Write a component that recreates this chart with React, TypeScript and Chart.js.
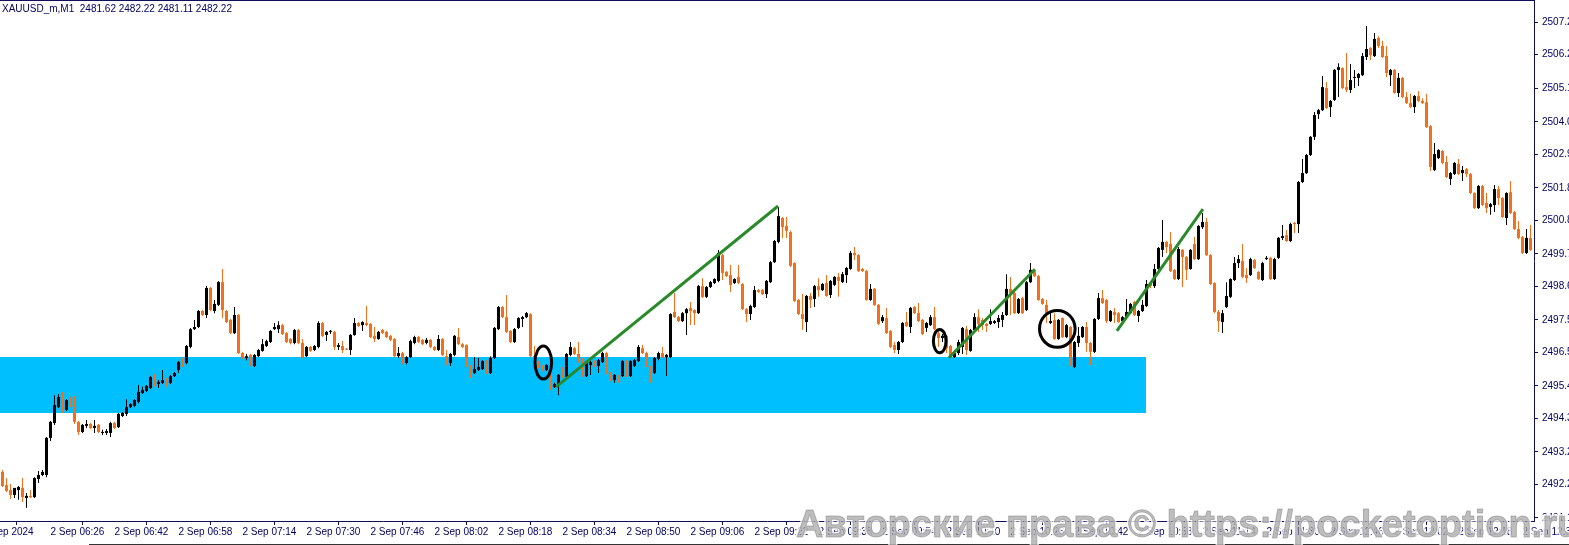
import React, { useEffect, useRef } from "react";
import { Chart, registerables } from "chart.js";

Chart.register(...registerables);

const chartTitle = "XAUUSD_m,M1  2481.62 2482.22 2481.11 2482.22";
const watermarkText = "Авторские права © https://pocketoption.ru";

// M1 candles, 2 Sep 2024 06:14 ... 12:36 (index 0 = 06:14)
const opens = [
  2492.60, 2492.17, 2492.01, 2491.85, 2492.01, 2492.08, 2491.75, 2491.82, 2491.78, 2492.37,
  2492.50, 2492.50, 2493.71, 2494.19, 2494.71, 2495.07, 2494.62, 2494.97, 2494.91, 2494.23,
  2493.90, 2494.10, 2494.16, 2494.03, 2494.13, 2493.87, 2493.87, 2493.87, 2494.19, 2494.06,
  2494.42, 2494.49, 2494.71, 2494.75, 2494.88, 2495.17, 2495.24, 2495.33, 2495.69, 2495.46,
  2495.50, 2495.59, 2495.50, 2495.72, 2495.92, 2496.24, 2496.15, 2496.67, 2497.25, 2497.32,
  2497.84, 2497.71, 2498.59, 2497.84, 2498.04, 2498.78, 2497.84, 2497.55, 2497.12, 2497.71,
  2496.47, 2496.31, 2496.41, 2496.05, 2496.37, 2496.54, 2496.70, 2496.83, 2497.25, 2497.25,
  2497.38, 2497.12, 2496.93, 2496.80, 2497.22, 2496.80, 2496.37, 2496.67, 2496.57, 2496.67,
  2497.45, 2497.06, 2497.16, 2497.16, 2496.67, 2496.70, 2496.60, 2496.57, 2497.06, 2497.45,
  2497.38, 2497.45, 2497.42, 2497.03, 2496.93, 2497.22, 2497.16, 2497.03, 2496.93, 2496.37,
  2496.47, 2496.15, 2496.34, 2496.80, 2496.99, 2496.90, 2496.80, 2496.90, 2496.67, 2496.57,
  2496.93, 2496.37, 2496.15, 2496.41, 2496.99, 2496.76, 2496.73, 2496.05, 2495.82, 2495.92,
  2495.95, 2496.21, 2495.82, 2496.31, 2497.25, 2497.97, 2497.64, 2497.19, 2496.83, 2497.29,
  2497.58, 2497.64, 2497.74, 2496.37, 2496.18, 2496.05, 2495.92, 2495.98, 2495.37, 2495.43,
  2495.79, 2495.69, 2496.41, 2496.63, 2496.44, 2496.28, 2495.72, 2496.08, 2496.21, 2496.05,
  2496.18, 2496.47, 2495.82, 2495.59, 2495.72, 2495.72, 2496.21, 2495.72, 2496.05, 2496.21,
  2496.63, 2496.47, 2496.02, 2495.82, 2496.28, 2496.47, 2496.34, 2496.34, 2497.81, 2497.64,
  2497.51, 2497.77, 2497.94, 2497.87, 2497.77, 2498.65, 2498.30, 2498.62, 2498.75, 2498.82,
  2499.66, 2499.11, 2499.01, 2498.75, 2498.95, 2498.72, 2497.90, 2497.74, 2497.97, 2498.52,
  2498.52, 2498.39, 2498.78, 2499.43, 2500.09, 2500.87, 2500.61, 2500.41, 2499.40, 2498.20,
  2497.74, 2497.48, 2498.33, 2498.23, 2498.65, 2498.52, 2498.75, 2498.36, 2498.69, 2498.95,
  2498.78, 2499.01, 2499.21, 2499.73, 2499.66, 2499.21, 2499.14, 2498.20, 2498.56, 2498.04,
  2497.51, 2497.61, 2497.19, 2496.73, 2496.57, 2496.83, 2497.48, 2497.32, 2497.97, 2497.77,
  2497.55, 2497.29, 2497.38, 2497.64, 2497.12, 2496.96, 2497.03, 2496.70, 2496.34, 2496.47,
  2496.67, 2497.25, 2496.54, 2497.22, 2497.64, 2497.55, 2497.42, 2497.42, 2497.45, 2497.48,
  2497.55, 2497.71, 2498.56, 2498.43, 2497.77, 2498.26, 2497.87, 2498.78, 2499.14, 2498.98,
  2498.23, 2498.04, 2497.45, 2497.55, 2496.93, 2497.61, 2496.99, 2497.32, 2496.02, 2496.80,
  2496.99, 2497.32, 2496.80, 2496.51, 2497.58, 2498.26, 2498.20, 2497.51, 2497.81, 2497.77,
  2497.51, 2497.64, 2497.77, 2498.13, 2497.68, 2497.84, 2498.00, 2498.75, 2498.65, 2499.21,
  2499.83, 2500.09, 2500.02, 2499.18, 2498.88, 2499.83, 2499.60, 2499.21, 2500.02, 2499.53,
  2500.57, 2500.74, 2499.66, 2498.75, 2497.81, 2497.48, 2497.97, 2498.30, 2498.85, 2499.40,
  2499.47, 2499.01, 2499.01, 2499.50, 2499.11, 2498.85, 2499.53, 2499.57, 2498.88, 2499.57,
  2500.22, 2500.31, 2500.12, 2500.71, 2500.67, 2502.04, 2502.33, 2502.92, 2503.51, 2504.25,
  2504.38, 2505.10, 2504.48, 2504.71, 2505.69, 2505.75, 2505.13, 2505.04, 2505.43, 2505.43,
  2505.52, 2506.11, 2506.40, 2506.14, 2506.73, 2506.47, 2506.14, 2505.52, 2505.69, 2504.94,
  2505.43, 2504.81, 2504.61, 2504.48, 2504.84, 2504.68, 2504.64, 2503.86, 2502.43, 2502.82,
  2503.05, 2502.69, 2502.14, 2502.30, 2502.63, 2502.33, 2502.46, 2502.30, 2501.68, 2501.19,
  2501.91, 2501.36, 2501.23, 2501.29, 2501.81, 2501.52, 2500.87, 2501.71, 2501.06, 2500.51,
  2500.25, 2499.73, 2500.22,
];

const highs = [
  2492.66, 2492.40, 2492.21, 2492.08, 2492.14, 2492.40, 2491.91, 2492.01, 2492.43, 2492.63,
  2492.66, 2493.74, 2494.26, 2495.10, 2495.14, 2495.20, 2494.97, 2495.04, 2495.07, 2494.26,
  2494.16, 2494.29, 2494.19, 2494.29, 2494.16, 2493.97, 2494.00, 2494.23, 2494.23, 2494.52,
  2494.55, 2494.97, 2494.84, 2494.97, 2495.43, 2495.37, 2495.43, 2495.72, 2495.79, 2495.59,
  2495.92, 2495.66, 2495.76, 2495.85, 2496.21, 2496.31, 2496.73, 2497.29, 2497.55, 2497.87,
  2497.87, 2498.65, 2498.62, 2498.20, 2498.82, 2499.21, 2497.87, 2497.58, 2497.97, 2497.74,
  2496.51, 2496.44, 2496.44, 2496.44, 2496.60, 2496.93, 2496.90, 2497.22, 2497.45, 2497.51,
  2497.42, 2497.16, 2496.96, 2497.25, 2497.25, 2496.93, 2496.70, 2496.70, 2496.73, 2497.51,
  2497.48, 2497.19, 2497.22, 2497.19, 2496.80, 2496.86, 2496.63, 2497.09, 2497.61, 2497.48,
  2497.51, 2498.00, 2497.45, 2497.32, 2497.19, 2497.25, 2497.19, 2497.06, 2496.96, 2496.67,
  2496.51, 2496.37, 2496.90, 2497.03, 2497.03, 2496.93, 2496.96, 2496.93, 2496.70, 2497.06,
  2496.96, 2496.57, 2496.47, 2497.06, 2497.29, 2496.80, 2496.76, 2496.08, 2496.34, 2496.31,
  2496.24, 2496.24, 2496.37, 2497.32, 2498.00, 2498.00, 2498.36, 2497.22, 2497.29, 2497.64,
  2497.68, 2497.81, 2497.77, 2496.70, 2496.21, 2496.08, 2496.11, 2496.02, 2495.50, 2495.79,
  2496.02, 2496.47, 2496.83, 2496.67, 2496.83, 2496.31, 2496.18, 2496.21, 2496.24, 2496.28,
  2496.51, 2496.51, 2495.85, 2495.79, 2495.76, 2496.24, 2496.24, 2496.24, 2496.28, 2496.73,
  2496.73, 2496.51, 2496.05, 2496.34, 2496.51, 2496.67, 2496.44, 2497.77, 2498.43, 2497.68,
  2497.81, 2497.94, 2498.13, 2497.90, 2498.69, 2498.91, 2498.65, 2498.82, 2498.91, 2499.83,
  2499.70, 2499.14, 2499.34, 2498.91, 2499.34, 2498.75, 2497.94, 2498.04, 2498.65, 2498.56,
  2498.56, 2498.85, 2499.47, 2500.15, 2501.23, 2500.90, 2500.90, 2500.45, 2499.43, 2498.23,
  2498.39, 2498.36, 2498.43, 2498.69, 2498.91, 2498.75, 2499.01, 2498.85, 2498.98, 2499.08,
  2499.11, 2499.27, 2499.79, 2499.92, 2499.70, 2499.24, 2499.18, 2498.72, 2498.59, 2498.07,
  2497.71, 2497.94, 2497.22, 2496.83, 2496.86, 2497.48, 2497.81, 2497.97, 2498.00, 2498.10,
  2497.58, 2497.48, 2497.71, 2497.97, 2497.22, 2497.09, 2497.06, 2496.73, 2496.57, 2496.90,
  2497.32, 2497.35, 2497.25, 2497.77, 2497.90, 2497.61, 2497.45, 2497.90, 2497.55, 2497.71,
  2497.81, 2499.04, 2498.95, 2498.46, 2498.26, 2498.30, 2498.82, 2499.40, 2499.18, 2499.01,
  2498.26, 2498.20, 2497.77, 2497.77, 2497.58, 2497.64, 2497.42, 2497.35, 2496.86, 2497.32,
  2497.35, 2497.48, 2496.83, 2497.61, 2498.43, 2498.52, 2498.23, 2497.87, 2497.94, 2497.81,
  2497.68, 2498.23, 2498.10, 2498.17, 2497.87, 2498.20, 2498.85, 2498.78, 2499.37, 2499.92,
  2500.80, 2500.12, 2500.41, 2499.21, 2499.92, 2499.86, 2499.63, 2499.86, 2500.25, 2500.64,
  2501.03, 2500.87, 2499.70, 2498.78, 2497.87, 2497.87, 2498.78, 2498.91, 2499.60, 2499.66,
  2500.02, 2499.24, 2499.57, 2499.53, 2499.14, 2499.44, 2499.63, 2499.60, 2499.57, 2500.25,
  2500.64, 2500.48, 2500.71, 2500.74, 2502.07, 2502.79, 2502.95, 2503.54, 2504.32, 2504.42,
  2505.49, 2505.30, 2504.71, 2505.72, 2505.91, 2505.78, 2506.24, 2505.88, 2505.69, 2505.59,
  2506.24, 2507.12, 2506.44, 2506.89, 2506.79, 2506.63, 2506.47, 2505.72, 2505.72, 2505.59,
  2505.46, 2504.97, 2504.91, 2504.87, 2505.00, 2504.77, 2504.91, 2503.90, 2503.31, 2503.11,
  2503.08, 2502.89, 2502.37, 2502.69, 2502.79, 2502.56, 2502.50, 2502.33, 2501.71, 2501.94,
  2501.94, 2501.68, 2501.36, 2501.94, 2501.91, 2501.55, 2501.71, 2502.07, 2501.10, 2500.77,
  2500.28, 2500.51, 2500.64,
];

const lows = [
  2492.11, 2491.95, 2491.72, 2491.75, 2491.69, 2491.62, 2491.43, 2491.75, 2491.75, 2492.24,
  2492.47, 2492.43, 2493.61, 2494.13, 2494.68, 2494.52, 2494.58, 2494.71, 2494.16, 2493.80,
  2493.87, 2494.03, 2494.00, 2493.87, 2493.87, 2493.80, 2493.80, 2493.74, 2494.00, 2494.03,
  2494.39, 2494.42, 2494.68, 2494.71, 2494.84, 2495.14, 2495.20, 2495.30, 2495.37, 2495.33,
  2495.46, 2495.37, 2495.46, 2495.69, 2495.82, 2496.02, 2496.11, 2496.63, 2497.22, 2497.29,
  2497.68, 2497.61, 2497.84, 2497.77, 2498.00, 2497.61, 2497.45, 2497.09, 2497.09, 2496.44,
  2496.28, 2496.24, 2496.05, 2496.02, 2496.34, 2496.51, 2496.67, 2496.80, 2497.22, 2497.12,
  2497.06, 2496.80, 2496.76, 2496.76, 2496.76, 2496.31, 2496.34, 2496.51, 2496.54, 2496.63,
  2496.99, 2496.86, 2497.09, 2496.57, 2496.57, 2496.47, 2496.57, 2496.41, 2497.03, 2497.32,
  2497.19, 2497.35, 2496.96, 2496.83, 2496.90, 2497.09, 2496.96, 2496.86, 2496.34, 2496.31,
  2496.11, 2496.11, 2496.31, 2496.76, 2496.80, 2496.73, 2496.76, 2496.63, 2496.54, 2496.54,
  2496.37, 2496.08, 2496.05, 2496.37, 2496.73, 2496.63, 2496.02, 2495.66, 2495.79, 2495.89,
  2495.92, 2495.79, 2495.79, 2496.28, 2497.22, 2497.61, 2497.12, 2496.80, 2496.80, 2497.25,
  2497.32, 2497.61, 2496.34, 2496.02, 2495.98, 2495.89, 2495.89, 2495.27, 2495.33, 2495.10,
  2495.66, 2495.66, 2496.37, 2496.41, 2496.15, 2495.69, 2495.69, 2495.76, 2496.02, 2495.82,
  2496.15, 2495.79, 2495.56, 2495.50, 2495.50, 2495.69, 2495.69, 2495.69, 2496.02, 2496.18,
  2496.44, 2496.02, 2495.50, 2495.79, 2496.24, 2496.31, 2495.72, 2496.31, 2497.61, 2497.48,
  2497.48, 2497.06, 2497.38, 2497.38, 2497.74, 2498.26, 2498.26, 2498.59, 2498.72, 2498.78,
  2498.85, 2498.95, 2498.46, 2498.72, 2498.72, 2497.87, 2497.48, 2497.55, 2497.94, 2498.43,
  2498.36, 2498.26, 2498.75, 2499.40, 2500.05, 2500.22, 2500.22, 2499.27, 2498.13, 2497.71,
  2497.22, 2497.16, 2497.94, 2497.97, 2498.30, 2498.49, 2498.30, 2498.26, 2498.65, 2498.30,
  2498.75, 2498.75, 2499.18, 2499.50, 2499.11, 2499.11, 2498.17, 2498.17, 2498.00, 2497.38,
  2497.45, 2497.09, 2496.63, 2496.47, 2496.44, 2496.80, 2497.32, 2497.12, 2497.74, 2497.48,
  2497.06, 2497.16, 2497.35, 2497.22, 2496.67, 2496.83, 2496.47, 2496.31, 2496.31, 2496.41,
  2496.44, 2496.41, 2496.51, 2497.19, 2497.16, 2497.22, 2497.16, 2497.38, 2497.42, 2497.29,
  2497.32, 2497.68, 2497.71, 2497.74, 2497.74, 2497.74, 2497.84, 2498.75, 2498.95, 2498.17,
  2498.04, 2497.45, 2497.42, 2496.90, 2496.90, 2496.96, 2496.96, 2496.05, 2495.98, 2496.67,
  2496.96, 2496.51, 2496.08, 2496.47, 2497.55, 2498.07, 2497.45, 2497.48, 2497.45, 2497.45,
  2497.48, 2497.61, 2497.74, 2497.68, 2497.48, 2497.81, 2497.97, 2498.59, 2498.59, 2499.18,
  2499.60, 2499.73, 2499.11, 2498.85, 2498.85, 2498.62, 2498.85, 2499.18, 2499.50, 2499.50,
  2500.51, 2499.63, 2498.69, 2497.77, 2497.16, 2497.12, 2497.94, 2498.26, 2498.82, 2499.24,
  2498.91, 2498.75, 2498.98, 2499.21, 2498.85, 2498.82, 2499.50, 2498.85, 2498.85, 2499.53,
  2500.15, 2500.09, 2500.09, 2500.38, 2500.38, 2502.01, 2502.30, 2502.89, 2503.41, 2504.09,
  2504.35, 2504.42, 2504.16, 2504.68, 2504.81, 2505.07, 2504.97, 2504.94, 2505.10, 2505.17,
  2505.49, 2506.01, 2506.01, 2506.11, 2506.40, 2506.08, 2505.46, 2505.17, 2504.91, 2504.81,
  2504.77, 2504.58, 2504.45, 2504.29, 2504.64, 2504.58, 2503.80, 2502.40, 2502.40, 2502.79,
  2502.63, 2502.17, 2501.94, 2502.27, 2502.27, 2502.07, 2502.20, 2501.65, 2501.16, 2501.16,
  2501.26, 2501.03, 2500.97, 2501.06, 2501.29, 2500.87, 2500.64, 2501.00, 2500.48, 2500.18,
  2499.70, 2499.70, 2499.79,
];

const closes = [
  2492.14, 2491.98, 2491.85, 2492.08, 2492.11, 2491.78, 2491.82, 2491.78, 2492.40, 2492.50,
  2492.60, 2493.71, 2494.23, 2494.78, 2495.04, 2494.55, 2494.94, 2494.88, 2494.23, 2493.90,
  2494.13, 2494.16, 2494.03, 2494.10, 2493.90, 2493.90, 2493.93, 2494.19, 2494.03, 2494.49,
  2494.52, 2494.71, 2494.81, 2494.94, 2495.20, 2495.27, 2495.40, 2495.69, 2495.43, 2495.53,
  2495.59, 2495.53, 2495.72, 2495.82, 2496.18, 2496.18, 2496.70, 2497.25, 2497.32, 2497.84,
  2497.71, 2498.59, 2497.87, 2498.07, 2498.78, 2497.87, 2497.48, 2497.12, 2497.71, 2496.47,
  2496.31, 2496.37, 2496.08, 2496.41, 2496.57, 2496.76, 2496.86, 2497.19, 2497.32, 2497.38,
  2497.09, 2496.83, 2496.80, 2497.22, 2496.80, 2496.34, 2496.67, 2496.54, 2496.70, 2497.45,
  2497.03, 2497.16, 2497.16, 2496.67, 2496.73, 2496.57, 2496.58, 2497.06, 2497.45, 2497.35,
  2497.48, 2497.38, 2496.99, 2496.93, 2497.16, 2497.12, 2496.99, 2496.90, 2496.37, 2496.47,
  2496.15, 2496.34, 2496.86, 2496.99, 2496.83, 2496.76, 2496.90, 2496.67, 2496.57, 2496.93,
  2496.41, 2496.15, 2496.44, 2497.03, 2496.76, 2496.67, 2496.05, 2495.82, 2495.95, 2496.02,
  2496.21, 2495.82, 2496.31, 2497.29, 2497.97, 2497.64, 2497.16, 2496.83, 2497.25, 2497.61,
  2497.64, 2497.77, 2496.37, 2496.05, 2496.02, 2495.92, 2496.08, 2495.37, 2495.46, 2495.76,
  2495.69, 2496.44, 2496.67, 2496.44, 2496.31, 2495.72, 2496.15, 2496.18, 2496.05, 2496.24,
  2496.47, 2495.82, 2495.59, 2495.76, 2495.69, 2496.21, 2495.72, 2496.21, 2496.24, 2496.67,
  2496.47, 2496.05, 2495.82, 2496.31, 2496.47, 2496.34, 2496.41, 2497.74, 2497.64, 2497.51,
  2497.77, 2497.90, 2497.84, 2497.77, 2498.65, 2498.30, 2498.62, 2498.78, 2498.88, 2499.73,
  2499.08, 2498.98, 2498.69, 2498.88, 2498.75, 2497.90, 2497.74, 2498.00, 2498.52, 2498.46,
  2498.39, 2498.82, 2499.43, 2500.12, 2500.93, 2500.57, 2500.45, 2499.31, 2498.17, 2497.74,
  2497.58, 2498.33, 2498.20, 2498.65, 2498.52, 2498.72, 2498.33, 2498.82, 2498.95, 2498.82,
  2499.04, 2499.24, 2499.73, 2499.66, 2499.14, 2499.14, 2498.20, 2498.56, 2498.04, 2497.42,
  2497.64, 2497.12, 2496.67, 2496.57, 2496.83, 2497.45, 2497.35, 2497.94, 2497.77, 2497.51,
  2497.09, 2497.45, 2497.64, 2497.25, 2496.96, 2497.03, 2496.63, 2496.34, 2496.47, 2496.83,
  2497.29, 2496.57, 2497.22, 2497.64, 2497.42, 2497.38, 2497.35, 2497.51, 2497.51, 2497.61,
  2497.71, 2498.56, 2498.43, 2497.77, 2498.23, 2497.77, 2498.78, 2499.18, 2498.98, 2498.20,
  2498.07, 2497.77, 2497.51, 2496.93, 2497.55, 2496.99, 2497.38, 2496.08, 2496.83, 2497.03,
  2497.32, 2496.80, 2496.51, 2497.58, 2498.26, 2498.10, 2497.51, 2497.84, 2497.71, 2497.48,
  2497.64, 2497.81, 2498.07, 2497.71, 2497.84, 2498.04, 2498.72, 2498.65, 2499.21, 2499.89,
  2500.09, 2499.92, 2499.14, 2498.88, 2499.86, 2499.60, 2499.18, 2499.83, 2499.53, 2500.61,
  2500.74, 2499.66, 2498.72, 2497.81, 2497.51, 2497.77, 2498.33, 2498.88, 2499.40, 2499.53,
  2498.95, 2498.91, 2499.53, 2499.24, 2498.88, 2499.40, 2499.57, 2498.88, 2499.53, 2500.22,
  2500.28, 2500.12, 2500.67, 2500.67, 2502.04, 2502.33, 2502.92, 2503.51, 2504.22, 2504.38,
  2505.13, 2504.45, 2504.68, 2505.69, 2505.78, 2505.10, 2505.04, 2505.36, 2505.46, 2505.56,
  2506.14, 2506.37, 2506.17, 2506.70, 2506.47, 2506.11, 2505.59, 2505.69, 2504.94, 2505.43,
  2504.81, 2504.61, 2504.48, 2504.84, 2504.68, 2504.61, 2503.83, 2502.53, 2502.95, 2503.08,
  2502.66, 2502.20, 2502.33, 2502.66, 2502.30, 2502.43, 2502.30, 2501.68, 2501.19, 2501.91,
  2501.29, 2501.19, 2501.32, 2501.81, 2501.52, 2500.90, 2501.68, 2501.03, 2500.51, 2500.22,
  2499.73, 2500.22, 2499.83,
];

// Axis ticks
const priceTicks = [
  2507.25, 2506.2, 2505.1, 2504.0, 2502.95, 2501.85, 2500.8, 2499.7,
  2498.65, 2497.55, 2496.5, 2495.4, 2494.35, 2493.25, 2492.2, 2491.1,
];
const timeTickIndex = [
  -5, 12, 28, 44, 60, 76, 92, 108, 124, 140, 156, 172, 188,
  204, 220, 236, 252, 268, 284, 300, 316, 332, 348, 364, 380,
];
const timeTickLabels = [
  "2 Sep 2024", "2 Sep 06:26", "2 Sep 06:42", "2 Sep 06:58", "2 Sep 07:14", "2 Sep 07:30",
  "2 Sep 07:46", "2 Sep 08:02", "2 Sep 08:18", "2 Sep 08:34", "2 Sep 08:50", "2 Sep 09:06",
  "2 Sep 09:22", "2 Sep 09:38", "2 Sep 09:54", "2 Sep 10:10", "2 Sep 10:26", "2 Sep 10:42",
  "2 Sep 10:58", "2 Sep 11:14", "2 Sep 11:30", "2 Sep 11:46", "2 Sep 12:02", "2 Sep 12:18",
  "2 Sep 12:34",
];

// Drawn objects (candle index, price)
const zoneTop = 2496.34;
const zoneBottom = 2494.52;
const zoneFromIndex = -3;
const zoneToIndex = 285.8;

const trendStartIndex = [138.4, 236.6, 278.6];
const trendStartPrice = [2495.37, 2496.32, 2497.19];
const trendEndIndex = [193.9, 258.1, 300.1];
const trendEndPrice = [2501.26, 2499.2, 2501.16];

const ellipseIndex = [135.2, 234.3, 263.7];
const ellipsePrice = [2496.16, 2496.86, 2497.26];
const ellipseHalfWidth = [2.08, 1.58, 4.45]; // in candles
const ellipseHalfHeight = [0.537, 0.381, 0.6]; // in price

const BULL = "#000000";
const BEAR = "#F0701C";
const AXIS_COLOR = "#10105a";
const FONT = '"Liberation Sans", Arial, sans-serif';

const overlayPlugin = {
  id: "mtOverlay",
  beforeDatasetsDraw(chart: any) {
    const { ctx, chartArea: a, scales } = chart;
    const x = scales.x;
    const y = scales.y;
    ctx.save();
    ctx.beginPath();
    ctx.rect(a.left, a.top, a.right - a.left, a.bottom - a.top);
    ctx.clip();
    const x1 = Math.max(a.left, x.getPixelForValue(zoneFromIndex));
    const x2 = Math.round(x.getPixelForValue(zoneToIndex));
    const y1 = Math.round(y.getPixelForValue(zoneTop));
    const y2 = Math.round(y.getPixelForValue(zoneBottom));
    ctx.fillStyle = "#00BFFF";
    ctx.fillRect(x1, y1, x2 - x1, y2 - y1);
    ctx.restore();
  },
  afterDatasetsDraw(chart: any) {
    const { ctx, chartArea: a, scales } = chart;
    const x = scales.x;
    const y = scales.y;
    ctx.save();
    ctx.beginPath();
    ctx.rect(a.left, a.top, a.right - a.left, a.bottom - a.top);
    ctx.clip();
    ctx.strokeStyle = "#2A8A2A";
    ctx.lineWidth = 3;
    ctx.lineCap = "butt";
    for (let k = 0; k < trendStartIndex.length; k++) {
      ctx.beginPath();
      ctx.moveTo(x.getPixelForValue(trendStartIndex[k]), y.getPixelForValue(trendStartPrice[k]));
      ctx.lineTo(x.getPixelForValue(trendEndIndex[k]), y.getPixelForValue(trendEndPrice[k]));
      ctx.stroke();
    }
    ctx.strokeStyle = "#000000";
    ctx.lineWidth = 3;
    for (let k = 0; k < ellipseIndex.length; k++) {
      const cx = x.getPixelForValue(ellipseIndex[k]);
      const cy = y.getPixelForValue(ellipsePrice[k]);
      const rx = Math.abs(x.getPixelForValue(ellipseIndex[k] + ellipseHalfWidth[k]) - cx);
      const ry = Math.abs(y.getPixelForValue(ellipsePrice[k] + ellipseHalfHeight[k]) - cy);
      ctx.beginPath();
      ctx.ellipse(cx, cy, rx, ry, 0, 0, Math.PI * 2);
      ctx.stroke();
    }
    ctx.restore();
  },
  afterDraw(chart: any) {
    const { ctx, chartArea: a } = chart;
    ctx.save();
    // window frame lines
    ctx.fillStyle = AXIS_COLOR;
    ctx.fillRect(0, 0, a.right + 1, 1);
    ctx.fillStyle = "#333333";
    ctx.fillRect(89, 544, 1569 - 89, 1);
    // title
    ctx.font = `10px ${FONT}`;
    ctx.fillStyle = "#000066";
    ctx.textBaseline = "middle";
    ctx.textAlign = "left";
    ctx.fillText(chartTitle, 2, 9);
    // watermark
    ctx.font = `bold 38px ${FONT}`;
    ctx.textBaseline = "alphabetic";
    ctx.lineJoin = "round";
    ctx.lineWidth = 4;
    ctx.strokeStyle = "rgba(255,255,255,0.8)";
    ctx.strokeText(watermarkText, 796, 537);
    ctx.fillStyle = "rgba(150,150,150,0.62)";
    ctx.fillText(watermarkText, 796, 537);
    ctx.lineWidth = 1;
    ctx.strokeStyle = "rgba(120,120,120,0.45)";
    ctx.strokeText(watermarkText, 796, 537);
    ctx.restore();
  },
};

export default function App() {
  const canvasRef = useRef<HTMLCanvasElement | null>(null);

  useEffect(() => {
    document.body.style.margin = "0";
    const canvas = canvasRef.current;
    if (!canvas) return;
    const idx = opens.map((_, i) => i);
    const colors = idx.map((i) => (closes[i] >= opens[i] ? BULL : BEAR));

    const chart = new Chart(canvas, {
      type: "bar",
      data: {
        datasets: [
          {
            label: "wick",
            data: idx.map((i) => ({ x: i, y: [lows[i], highs[i]] })) as any,
            backgroundColor: colors,
            borderWidth: 0,
            barThickness: 1,
            grouped: false,
            inflateAmount: 0,
            order: 2,
          } as any,
          {
            label: "body",
            data: idx.map((i) => ({ x: i, y: [opens[i], closes[i]] })) as any,
            backgroundColor: colors,
            borderWidth: 0,
            barThickness: 3,
            minBarLength: 1,
            grouped: false,
            inflateAmount: 0,
            order: 1,
          } as any,
        ],
      },
      options: {
        responsive: false,
        animation: false,
        devicePixelRatio: 1,
        layout: { padding: { top: 1, left: 0, right: 0, bottom: 0 } },
        plugins: {
          legend: { display: false },
          tooltip: { enabled: false },
          title: { display: false },
        },
        scales: {
          x: {
            type: "linear",
            position: "bottom",
            min: -0.625,
            max: 382.875,
            offset: false,
            afterFit: (s: any) => {
              s.height = 24;
              s.paddingLeft = 0;
              s.paddingRight = 0;
              s.paddingTop = 0;
              s.paddingBottom = 0;
            },
            afterBuildTicks: (s: any) => {
              s.ticks = timeTickIndex.map((v) => ({ value: v }));
            },
            ticks: {
              autoSkip: false,
              maxRotation: 0,
              minRotation: 0,
              align: "start",
              padding: 1,
              color: "#000066",
              font: { family: FONT, size: 10 },
              callback: (_v: any, i: number) => timeTickLabels[i],
            },
            grid: {
              drawOnChartArea: false,
              drawTicks: true,
              tickLength: 4,
              color: AXIS_COLOR,
            },
            border: { display: true, color: AXIS_COLOR, width: 1 },
          } as any,
          y: {
            type: "linear",
            position: "right",
            min: 2491.002,
            max: 2507.934,
            afterFit: (s: any) => {
              s.width = 35;
              s.paddingTop = 0;
              s.paddingBottom = 0;
              s.paddingLeft = 0;
              s.paddingRight = 0;
            },
            afterBuildTicks: (s: any) => {
              s.ticks = priceTicks.map((v) => ({ value: v }));
            },
            ticks: {
              autoSkip: false,
              padding: 4,
              color: "#000066",
              font: { family: FONT, size: 10 },
              callback: (v: any) => Number(v).toFixed(2),
            },
            grid: {
              drawOnChartArea: false,
              drawTicks: true,
              tickLength: 4,
              color: AXIS_COLOR,
            },
            border: { display: true, color: AXIS_COLOR, width: 1 },
          } as any,
        },
      },
      plugins: [overlayPlugin],
    });

    return () => {
      chart.destroy();
    };
  }, []);

  return (
    <div style={{ position: "absolute", left: 0, top: 0, width: 1569, height: 545, background: "#ffffff" }}>
      <canvas ref={canvasRef} width={1569} height={545} style={{ display: "block" }} />
    </div>
  );
}
